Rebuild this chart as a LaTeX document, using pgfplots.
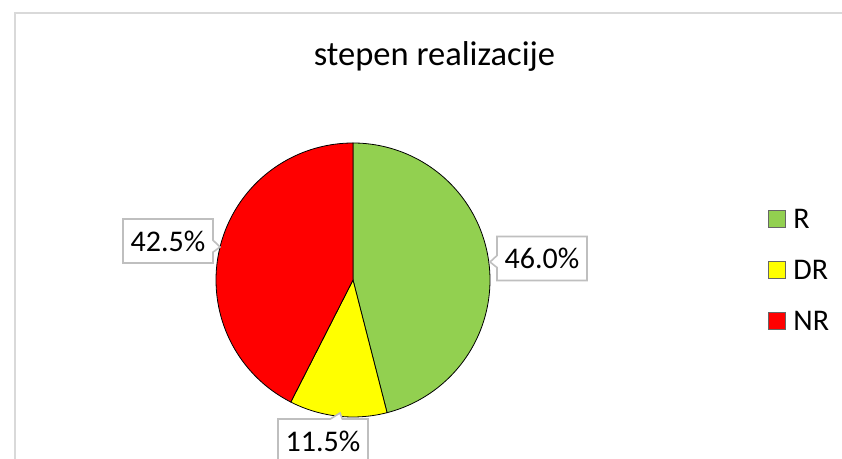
\documentclass[border=0pt]{standalone}
\usepackage{pgfplots}
\pgfplotsset{compat=1.18}
\usepackage{pgfplotstable}
\usepackage{fontspec}
\setmainfont{Carlito}
\usetikzlibrary{shapes.callouts}
\definecolor{cR}{HTML}{92D050}
\definecolor{cDR}{HTML}{FFFF00}
\definecolor{cNR}{HTML}{FF0000}
\definecolor{frameC}{HTML}{D9D9D9}
\definecolor{lblC}{HTML}{BFBFBF}
% share (%), start angle, end angle (clockwise from 12 o'clock)
\pgfplotstableread{
name share start end
R    46.0   90     -75.6
DR   11.5  -75.6  -117.0
NR   42.5  -117.0 -270.0
}\piedata
\begin{document}
\begin{tikzpicture}
\begin{axis}[
  at={(0,0)}, anchor=south west,
  width=421pt, height=229.5pt, scale only axis,
  xmin=0, xmax=842, ymin=0, ymax=459,
  hide axis, clip=true,
]
\addplot[draw=frameC, line width=1pt] coordinates {(15,-20) (15,446) (900,446)};
% slices
\addplot[fill=cR, draw=black, line width=0.4pt, domain=-75.6:90, samples=120, variable=\t]
  ({353+137*cos(\t)},{179+137*sin(\t)}) -- (axis cs:353,179) -- cycle;
\addplot[fill=cDR, draw=black, line width=0.4pt, domain=-117:-75.6, samples=40, variable=\t]
  ({353+137*cos(\t)},{179+137*sin(\t)}) -- (axis cs:353,179) -- cycle;
\addplot[fill=cNR, draw=black, line width=0.4pt, domain=-270:-117, samples=120, variable=\t]
  ({353+137*cos(\t)},{179+137*sin(\t)}) -- (axis cs:353,179) -- cycle;
% legend
\addplot[only marks, mark=square*, mark size=4.25pt, mark options={fill=cR, draw=black!60, line width=0.4pt}] coordinates {(777,240)};
\addplot[only marks, mark=square*, mark size=4.25pt, mark options={fill=cDR, draw=black!60, line width=0.4pt}] coordinates {(777,189)};
\addplot[only marks, mark=square*, mark size=4.25pt, mark options={fill=cNR, draw=black!60, line width=0.4pt}] coordinates {(777,138)};
\node[anchor=west, inner sep=0pt, font=\fontsize{15}{18}\selectfont] at (axis cs:793,240) {R};
\node[anchor=west, inner sep=0pt, font=\fontsize{15}{18}\selectfont] at (axis cs:793,189) {DR};
\node[anchor=west, inner sep=0pt, font=\fontsize{15}{18}\selectfont] at (axis cs:793,138) {NR};
% title
\node[anchor=base, font=\fontsize{17.25}{20}\selectfont] at (axis cs:434.5,393) {stepen realizacije};
% data labels
\tikzset{lbl/.style={rectangle callout, draw=lblC, fill=white, line width=0.8pt,
  minimum width=45pt, minimum height=22pt, inner sep=0pt, callout pointer width=6pt,
  font=\fontsize{15}{18}\selectfont}}
\node[lbl, callout absolute pointer={(axis cs:220,212)}] at (axis cs:168,218) {42.5\%};
\node[lbl, callout absolute pointer={(axis cs:490,197)}] at (axis cs:542,200.5) {46.0\%};
\node[lbl, callout absolute pointer={(axis cs:340,46)}] at (axis cs:323,18) {11.5\%};
\end{axis}
\pgfresetboundingbox
\path[use as bounding box] (0,0) rectangle (421pt,229.5pt);
\end{tikzpicture}
\end{document}
